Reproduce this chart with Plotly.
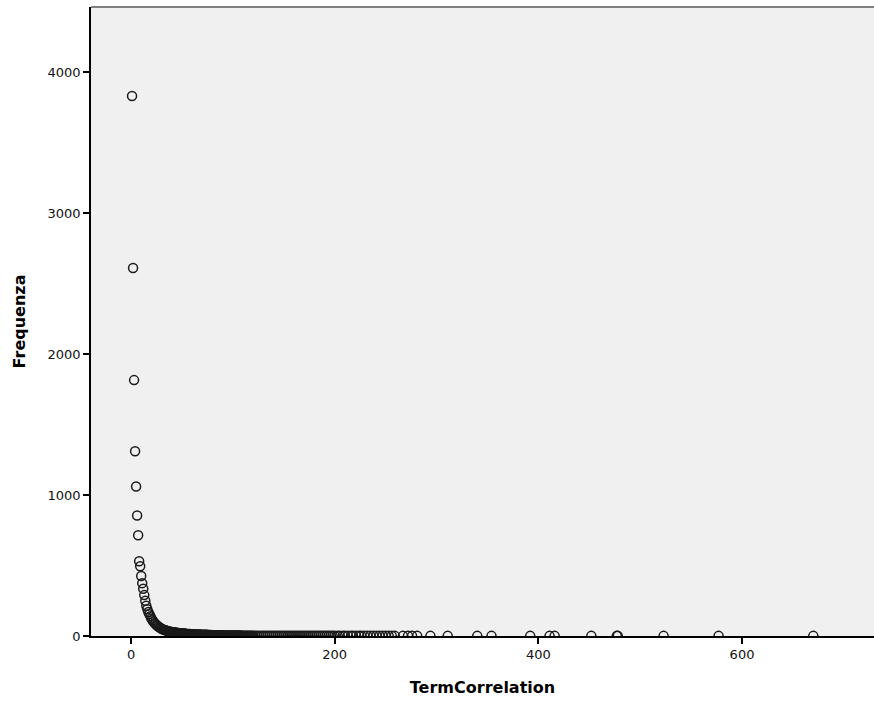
import plotly.graph_objects as go

# Head of the distribution (TermCorrelation value, frequency)
head_x = [1, 2, 3, 4, 5, 6, 7, 8, 9, 10, 11, 12, 13, 14, 15, 16, 17, 18, 19, 20,
          21, 22, 23, 24, 25, 26, 27, 28, 29, 30]
head_y = [3830, 2610, 1815, 1310, 1060, 855, 715, 530, 495, 425, 375, 335, 290, 250, 215,
          190, 170, 155, 140, 125, 112, 102, 93, 85, 78, 72, 66, 61, 56, 52]

# Dense low-frequency band
body_x = [31, 32, 33, 34, 35, 36, 37, 38, 39, 40, 41, 42, 43, 44, 45, 46, 47, 48, 49, 50,
          51, 52, 53, 54, 55, 56, 57, 58, 59, 60, 61, 62, 63, 64, 65, 66, 67, 68, 69, 70,
          71, 72, 73, 74, 75, 76, 77, 78, 79, 80, 81, 82, 83, 84, 85, 86, 87, 88, 89, 90,
          91, 92, 93, 94, 95, 96, 97, 98, 99, 100, 101, 102, 103, 104, 105, 106, 107, 108,
          109, 110, 111, 112, 113, 114, 115, 116, 117, 118, 119, 120]
body_y = [48, 45, 42, 40, 37, 35, 33, 31, 30, 28, 27, 26, 25, 24, 23, 22, 21, 20, 19, 19,
          18, 17, 17, 16, 15, 15, 14, 14, 13, 13, 12, 12, 11, 11, 11, 10, 10, 10, 9, 9,
          9, 8, 8, 8, 8, 7, 7, 7, 7, 6, 6, 6, 6, 6, 5, 5, 5, 5, 5, 5,
          4, 4, 4, 4, 4, 4, 4, 3, 3, 3, 3, 3, 3, 3, 3, 3, 3, 3, 2, 2,
          2, 2, 2, 2, 2, 2, 2, 2, 2, 2]

mid_x = [122, 124, 126, 128, 130, 132, 134, 136, 138, 140, 142, 144, 146, 148, 150, 152,
         154, 156, 158, 160, 162, 164, 166, 168, 170, 172, 174, 176, 178, 180, 182, 184,
         186, 188, 190, 192, 194, 196, 198, 200, 203, 205, 208, 210, 213, 216, 218, 221,
         224, 226, 229, 232, 235, 238, 241, 244, 247, 250, 253, 256, 259]
mid_y = [2, 2, 2, 2, 2, 2, 2, 2, 2, 1, 2, 1, 1, 2, 1, 1, 1, 1, 1, 1, 1, 1, 1, 1, 1, 1,
         1, 1, 1, 1, 1, 1, 1, 1, 1, 1, 1, 1, 1, 1, 1, 1, 1, 1, 1, 1, 1, 1, 1, 1, 1, 1,
         1, 1, 1, 1, 1, 1, 1, 1, 1]

# Sparse tail
tail_x = [267, 272, 276, 281, 294, 311, 340, 354, 392, 411, 416, 452, 477, 478, 523, 577, 670]
tail_y = [1, 1, 1, 1, 1, 1, 1, 1, 1, 1, 1, 1, 1, 1, 1, 1, 1]

xs = head_x + body_x + mid_x + tail_x
ys = head_y + body_y + mid_y + tail_y

fig = go.Figure()
fig.add_trace(go.Scatter(
    x=xs, y=ys, mode="markers", cliponaxis=True,
    marker=dict(symbol="circle-open", size=9, color="#1a1a1a", line=dict(width=1.5, color="#1a1a1a")),
    showlegend=False, hoverinfo="skip",
))

tick_font = "DejaVu Sans, Verdana, sans-serif"

fig.update_layout(
    width=874, height=706,
    margin=dict(l=91, r=0, t=7, b=70),
    paper_bgcolor="white",
    plot_bgcolor="#f0f0f0",
    font=dict(family=tick_font, size=13, color="black"),
    xaxis=dict(
        range=[-39.3, 729.6],
        tickvals=[0, 200, 400, 600],
        ticks="outside", ticklen=6, tickwidth=1.5, tickcolor="black",
        showgrid=False, zeroline=False,
        showline=True, linecolor="black", linewidth=1.5,
        title=dict(text="<b>TermCorrelation</b>", font=dict(size=16, family=tick_font), standoff=20),
        tickfont=dict(size=13, color="#111111"),
    ),
    yaxis=dict(
        range=[0, 4461],
        tickvals=[0, 1000, 2000, 3000, 4000],
        ticks="outside", ticklen=6, tickwidth=1.5, tickcolor="black",
        showgrid=False, zeroline=False,
        showline=True, linecolor="black", linewidth=1.5,
        title=dict(text="<b>Frequenza</b>", font=dict(size=16, family=tick_font), standoff=18),
        tickfont=dict(size=13, color="#111111"),
    ),
    shapes=[dict(type="line", xref="paper", yref="paper", x0=0, x1=1, y0=1, y1=1,
                 line=dict(color="#808080", width=2))],
)

fig.write_html("out.html", config={"displayModeBar": False},
               post_script="document.body.style.margin='0px';")
